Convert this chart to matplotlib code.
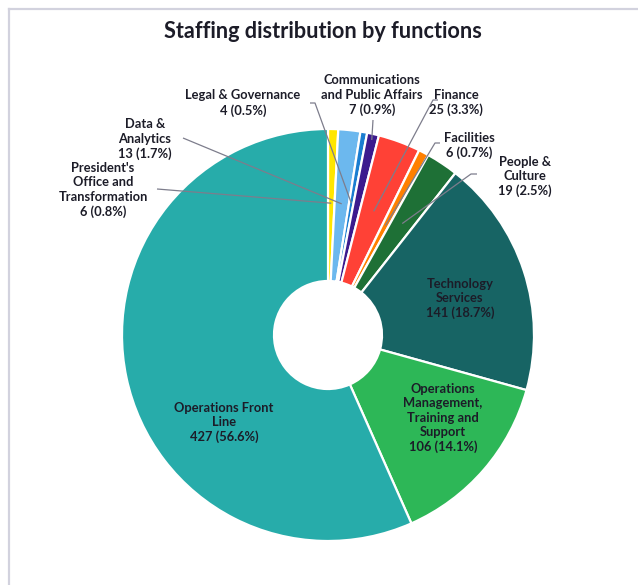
import numpy as np
import matplotlib
matplotlib.use("Agg")
import matplotlib.pyplot as plt
from matplotlib.lines import Line2D

# ---- data ----
categories = [
    "President's\nOffice and\nTransformation",
    "Data &\nAnalytics",
    "Legal & Governance",
    "Communications\nand Public Affairs",
    "Finance",
    "Facilities",
    "People &\nCulture",
    "Technology\nServices",
    "Operations\nManagement,\nTraining and\nSupport",
    "Operations Front\nLine",
]
values = [6, 13, 4, 7, 25, 6, 19, 141, 106, 427]
percents = ["0.8%", "1.7%", "0.5%", "0.9%", "3.3%", "0.7%", "2.5%", "18.7%", "14.1%", "56.6%"]
colors = ["#FFE600", "#6CB8EE", "#1A7DD0", "#3C1A8E", "#FF4136", "#FF8000",
          "#1E7036", "#176464", "#2DB757", "#27ACAA"]

# ---- layout (pixels from top-left) ----
W, H = 638, 585
CX, CY = 328, 335
R = 206
HOLE = 54

label_pos = [(103, 190), (145, 139), (243, 103), (372, 95), (456, 102.5),
             (469, 145.5), (525, 176.5), (460, 298.5), (443, 418), (224, 422.5)]
leaders = [((157, 189), (157, 189)), ((183, 138), (183, 138)), ((310, 103), (315, 103)),
           ((373, 120), (373, 120)), ((438, 100), (433, 100)), ((440, 143), (435, 143)),
           ((477, 174), (471, 174)), None, None, None]
anchor_frac = [0.64, 0.64, 0.65, 0.97, 0.64, 0.6, 0.65, None, None, None]

fig = plt.figure(figsize=(W / 100, H / 100), dpi=100)
ax = fig.add_axes([0, 0, 1, 1])

def py(y):
    return H - y

wedges, _ = ax.pie(values, colors=colors, startangle=90, counterclock=False,
                   center=(CX, py(CY)), radius=R,
                   wedgeprops=dict(width=R - HOLE, edgecolor="white", linewidth=1.6),
                   frame=True)
ax.set_xlim(0, W)
ax.set_ylim(0, H)
ax.set_aspect("equal")
ax.axis("off")

total = float(sum(values))
cum = np.cumsum([0] + values)
font = dict(family=["Lato", "DejaVu Sans"], fontweight="bold", color="#1c1c28")

for i, (cat, v, p) in enumerate(zip(categories, values, percents)):
    lx, ly = label_pos[i]
    ax.text(lx, py(ly), f"{cat}\n{v} ({p})", ha="center", va="center",
            multialignment="center", fontsize=9.3, linespacing=1.25, **font)
    if leaders[i] is not None:
        mid = (cum[i] + v / 2) / total * 2 * np.pi
        r = R * anchor_frac[i]
        axp = CX + r * np.sin(mid)
        ayp = CY - r * np.cos(mid)
        (x0, y0), (x1, y1) = leaders[i]
        ax.plot([x0, x1, axp], [py(y0), py(y1), py(ayp)], color="#7d7d8c", lw=0.9,
                solid_capstyle="butt", zorder=5)

ax.text(323, py(32), "Staffing distribution by functions", ha="center", va="center",
        fontsize=15.6, fontfamily=["Lato", "DejaVu Sans"], fontweight="bold", color="#1c1c28")

# frame border
bc = "#d2d2de"
fig.add_artist(Line2D([8.5 / W, 1], [1 - 8.5 / H, 1 - 8.5 / H], transform=fig.transFigure, color=bc, lw=1.6))
fig.add_artist(Line2D([8.5 / W, 8.5 / W], [0, 1 - 8.5 / H], transform=fig.transFigure, color=bc, lw=1.6))

fig.savefig("out.png", dpi=100, facecolor="white")
